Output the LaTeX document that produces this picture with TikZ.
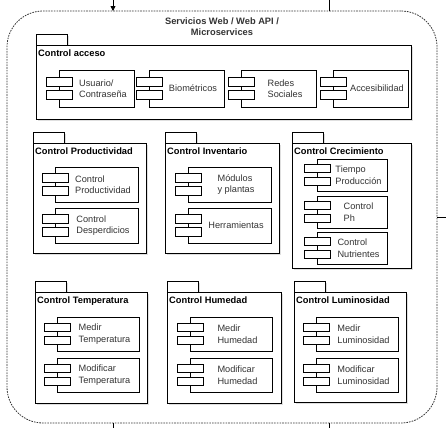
\documentclass[tikz,border=0pt]{standalone}
\usepackage{fontspec}
\setmainfont{Liberation Sans}
\usetikzlibrary{positioning, calc, arrows.meta, shadows}

\definecolor{inkgray}{HTML}{333333}

\tikzset{
  conn/.style={draw=black, line width=0.8pt},
  wsframe/.style={draw=inkgray, line width=0.8pt, dash pattern=on 1.6pt off 1.1pt,
    rounded corners=36pt, anchor=north west, inner sep=0pt, outer sep=0pt},
  wstitle/.style={align=center, inner sep=0pt, text=inkgray,
    font=\fontsize{9.3}{11}\selectfont\bfseries},
  pkgtab/.style={draw=black, fill=white, line width=0.8pt, anchor=south west,
    minimum width=31pt, minimum height=11pt, inner sep=0pt, outer sep=0pt,
    drop shadow={shadow xshift=1.5pt, shadow yshift=-1.5pt, opacity=0.25}},
  pkgbody/.style={draw=black, fill=white, line width=0.8pt, anchor=north west,
    inner sep=0pt, outer sep=0pt,
    drop shadow={shadow xshift=1.5pt, shadow yshift=-1.5pt, opacity=0.25}},
  pkgtitle/.style={anchor=base west, inner sep=0pt, text=black,
    font=\fontsize{9.3}{11}\selectfont\bfseries},
  compbox/.style={draw=black, fill=white, line width=0.7pt, anchor=north west,
    inner sep=0pt, outer sep=0pt,
    drop shadow={shadow xshift=1.2pt, shadow yshift=-1.2pt, opacity=0.2}},
  port/.style={draw=black, fill=white, line width=0.7pt, minimum width=26pt,
    minimum height=8.5pt, inner sep=0pt, outer sep=0pt},
  comptext/.style={align=left, inner sep=0pt, text=inkgray,
    font=\fontsize{9.2}{11.5}\selectfont}
}

% package: name, x, y (top left of body), width, height, title
\newcommand{\pkg}[6]{%
  \node[pkgtab] (#1tab) at (#2,#3) {};
  \node[pkgbody, minimum width=#4pt, minimum height=#5pt] (#1) at (#2,#3) {};
  \node[pkgtitle] (#1title) at ([xshift=2pt,yshift=-11.5pt]#1.north west) {#6};
}

% component: name, x, y (top left), width, height, text
\newcommand{\comp}[6]{%
  \node[compbox, minimum width=#4pt, minimum height=#5pt] (#1) at (#2,#3) {};
  \node[port] (#1a) at ([yshift=6.5pt]#1.west) {};
  \node[port] (#1b) at ([yshift=-6.5pt]#1.west) {};
  \node[comptext] (#1txt) at ([xshift=6.5pt]#1.center) {#6};
}

\begin{document}
\begin{tikzpicture}[x=1pt, y=-1pt]
  \useasboundingbox (0,0) rectangle (446,434);

  % Outer boundary of the services
  \node[wsframe, minimum width=430pt, minimum height=412pt] (ws) at (7,11) {};
  \node[wstitle, anchor=north] (wstitle) at (222,18) {Servicios Web / Web API /\\Microservices};

  % Connectors cut off at the picture edge
  \coordinate (inTop) at (113,0);
  \coordinate (outTop) at (329,0);
  \coordinate (outRight) at (446,217);
  \coordinate (outBotA) at (113,428);
  \coordinate (outBotB) at (329,428);
  \draw[conn, -{Triangle[width=5pt,length=5pt]}] (inTop) -- (inTop |- ws.north);
  \draw[conn] (outTop) -- (outTop |- ws.north);
  \draw[conn] (ws.east |- outRight) -- (outRight);
  \draw[conn] (outBotA |- ws.south) -- (outBotA);
  \draw[conn] (outBotB |- ws.south) -- (outBotB);

  % Control acceso
  \pkg{acc}{36}{45}{375}{74}{Control acceso}
  \comp{accUsr}{59}{70}{75}{37}{Usuario/\\Contraseña}
  \comp{accBio}{149}{70}{75}{37}{Biométricos}
  \comp{accRed}{241}{70}{75}{37}{Redes\\Sociales}
  \comp{accAcc}{333}{70}{75}{37}{Accesibilidad}

  % Second row
  \pkg{prod}{33}{143}{113}{110}{Control Productividad}
  \comp{prodCtl}{55}{167}{83}{35}{Control\\Productividad}
  \comp{prodDes}{55}{208}{83}{35}{Control\\Desperdicios}

  \pkg{inv}{165}{143}{114}{110}{Control Inventario}
  \comp{invMod}{188}{167}{83}{35}{Módulos\\y plantas}
  \comp{invHer}{188}{208}{83}{35}{Herramientas}

  \pkg{crec}{292}{143}{119}{125}{Control Crecimiento}
  \comp{crecTie}{317}{159}{70}{32}{Tiempo\\Producción}
  \comp{crecPh}{317}{196}{70}{32}{Control\\Ph}
  \comp{crecNut}{317}{232}{70}{32}{Control\\Nutrientes}

  % Third row
  \pkg{temp}{35}{292}{112}{111}{Control Temperatura}
  \comp{tempMed}{57}{317}{82}{34}{Medir\\Temperatura}
  \comp{tempMod}{57}{358}{82}{34}{Modificar\\Temperatura}

  \pkg{hum}{167}{292}{114}{111}{Control Humedad}
  \comp{humMed}{190}{317}{82}{34}{Medir\\Humedad}
  \comp{humMod}{190}{358}{82}{34}{Modificar\\Humedad}

  \pkg{lum}{294}{292}{112}{110}{Control Luminosidad}
  \comp{lumMed}{316}{317}{82}{34}{Medir\\Luminosidad}
  \comp{lumMod}{316}{358}{82}{34}{Modificar\\Luminosidad}
\end{tikzpicture}
\end{document}
